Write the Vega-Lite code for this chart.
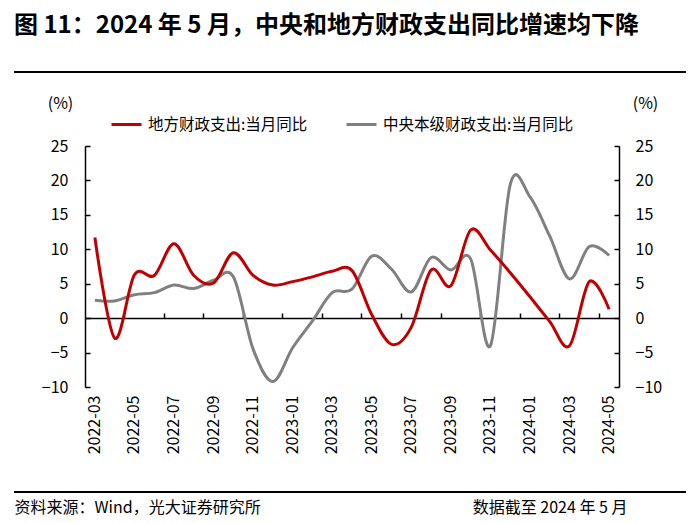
{
  "$schema": "https://vega.github.io/schema/vega-lite/v6.json",
  "width": 672,
  "height": 420,
  "autosize": {"type": "none"},
  "padding": {"left": 14, "top": 72, "right": 14, "bottom": 31},
  "background": "white",
  "view": {"stroke": "black", "strokeWidth": 2, "strokeDash": [672, 420]},
  "title": {
    "text": "图 11：2024 年 5 月，中央和地方财政支出同比增速均下降",
    "anchor": "start",
    "frame": "group",
    "font": "Noto Sans CJK SC",
    "fontSize": 24,
    "fontWeight": "bold",
    "color": "#000000",
    "baseline": "middle",
    "offset": 22
  },
  "data": {
    "values": [
      {"month": "2022-03", "local": 11.7, "central": 2.6},
      {"month": "2022-04", "local": -2.9, "central": 2.5},
      {"month": "2022-05", "local": 6.3, "central": 3.4},
      {"month": "2022-06", "local": 6.2, "central": 3.7},
      {"month": "2022-07", "local": 10.8, "central": 4.8},
      {"month": "2022-08", "local": 6.2, "central": 4.3},
      {"month": "2022-09", "local": 5.1, "central": 5.5},
      {"month": "2022-10", "local": 9.5, "central": 6.0},
      {"month": "2022-11", "local": 6.2, "central": -4.5},
      {"month": "2022-12", "local": 4.8, "central": -9.2},
      {"month": "2023-01", "local": 5.3, "central": -4.3},
      {"month": "2023-02", "local": 6.0, "central": -0.4},
      {"month": "2023-03", "local": 6.8, "central": 3.7},
      {"month": "2023-04", "local": 6.9, "central": 4.2},
      {"month": "2023-05", "local": 0.5, "central": 9.0},
      {"month": "2023-06", "local": -3.8, "central": 7.1},
      {"month": "2023-07", "local": -1.3, "central": 3.8},
      {"month": "2023-08", "local": 7.0, "central": 8.8},
      {"month": "2023-09", "local": 4.7, "central": 7.0},
      {"month": "2023-10", "local": 12.8, "central": 8.6},
      {"month": "2023-11", "local": 9.9, "central": -4.0},
      {"month": "2023-12", "local": 6.6, "central": 19.4},
      {"month": "2024-01", "local": 3.1, "central": 17.6},
      {"month": "2024-02", "local": -0.5, "central": 11.9},
      {"month": "2024-03", "local": -4.0, "central": 5.7},
      {"month": "2024-04", "local": 5.3, "central": 10.4},
      {"month": "2024-05", "local": 1.3, "central": 9.1}
    ]
  },
  "layer": [
    {
      "mark": {"type": "line", "strokeWidth": 3, "interpolate": "cardinal", "tension": 0},
      "encoding": {
        "x": {
          "field": "month",
          "type": "ordinal",
          "scale": {"type": "band", "domain": ["2022-03","2022-04","2022-05","2022-06","2022-07","2022-08","2022-09","2022-10","2022-11","2022-12","2023-01","2023-02","2023-03","2023-04","2023-05","2023-06","2023-07","2023-08","2023-09","2023-10","2023-11","2023-12","2024-01","2024-02","2024-03","2024-04","2024-05"], "range": [71, 605], "paddingInner": 0, "paddingOuter": 0},
          "axis": {
            "orient": "top",
            "offset": -246,
            "labels": false,
            "domain": true,
            "ticks": true,
            "tickSize": 5,
            "bandPosition": 0,
            "values": ["2022-05","2022-07","2022-09","2022-11","2023-01","2023-03","2023-05","2023-07","2023-09","2023-11","2024-01","2024-03","2024-05"],
            "title": "数据截至 2024 年 5 月",
            "titleX": 613,
            "titleY": 189,
            "titleAlign": "right",
            "titleAnchor": null,
            "titleBaseline": "middle",
            "titleAngle": 0
          }
        },
        "y": {
          "field": "central",
          "type": "quantitative",
          "scale": {"domain": [-10, 25], "range": [315, 74], "nice": false, "zero": false},
          "axis": {
            "orient": "right",
            "offset": -67,
            "values": [-10, -5, 0, 5, 10, 15, 20, 25],
            "tickSize": -5,
            "labelPadding": 21,
            "title": "(%)",
            "titleAngle": 0,
            "titleX": 26,
            "titleY": 31,
            "titleAlign": "center",
            "titleBaseline": "middle"
          }
        },
        "color": {
          "datum": "中央本级财政支出:当月同比",
          "type": "nominal",
          "scale": {"domain": ["地方财政支出:当月同比", "中央本级财政支出:当月同比"], "range": ["#C00000", "#808080"]},
          "legend": {"orient": "none", "legendX": 96, "legendY": 36, "direction": "horizontal", "columns": 2, "title": null}
        }
      }
    },
    {
      "mark": {"type": "line", "strokeWidth": 3, "interpolate": "cardinal", "tension": 0},
      "encoding": {
        "x": {
          "field": "month",
          "type": "ordinal",
          "scale": {"type": "band", "domain": ["2022-03","2022-04","2022-05","2022-06","2022-07","2022-08","2022-09","2022-10","2022-11","2022-12","2023-01","2023-02","2023-03","2023-04","2023-05","2023-06","2023-07","2023-08","2023-09","2023-10","2023-11","2023-12","2024-01","2024-02","2024-03","2024-04","2024-05"], "range": [71, 605], "paddingInner": 0, "paddingOuter": 0},
          "axis": {
            "orient": "bottom",
            "offset": -105,
            "domain": false,
            "ticks": false,
            "labelAngle": 270,
            "labelPadding": 8,
            "labelOverlap": false,
            "values": ["2022-03","2022-05","2022-07","2022-09","2022-11","2023-01","2023-03","2023-05","2023-07","2023-09","2023-11","2024-01","2024-03","2024-05"],
            "title": "资料来源：Wind，光大证券研究所",
            "titleX": 0,
            "titleY": 120,
            "titleAlign": "left",
            "titleAnchor": null,
            "titleBaseline": "middle",
            "titleAngle": 0
          }
        },
        "y": {
          "field": "local",
          "type": "quantitative",
          "scale": {"domain": [-10, 25], "range": [315, 74], "nice": false, "zero": false},
          "axis": {
            "orient": "left",
            "offset": -71,
            "values": [-10, -5, 0, 5, 10, 15, 20, 25],
            "tickSize": -5,
            "labelPadding": 22,
            "title": "(%)",
            "titleAngle": 0,
            "titleX": -25,
            "titleY": 31,
            "titleAlign": "center",
            "titleBaseline": "middle"
          }
        },
        "color": {
          "datum": "地方财政支出:当月同比",
          "type": "nominal",
          "scale": {"domain": ["地方财政支出:当月同比", "中央本级财政支出:当月同比"], "range": ["#C00000", "#808080"]},
          "legend": {"orient": "none", "legendX": 96, "legendY": 36, "direction": "horizontal", "columns": 2, "title": null}
        }
      }
    }
  ],
  "resolve": {"scale": {"y": "independent"}, "axis": {"x": "independent", "y": "independent"}},
  "config": {
    "font": "Noto Sans CJK SC",
    "axis": {
      "labelFont": "Noto Sans CJK SC",
      "titleFont": "Noto Sans CJK SC",
      "labelFontSize": 16,
      "titleFontSize": 16,
      "titleFontWeight": "normal",
      "labelColor": "#000000",
      "titleColor": "#000000",
      "domainColor": "#000000",
      "tickColor": "#000000",
      "domainWidth": 1.5,
      "tickWidth": 1.5,
      "grid": false
    },
    "legend": {
      "labelFont": "Noto Sans CJK SC",
      "labelFontSize": 15.5,
      "labelColor": "#000000",
      "labelLimit": 400,
      "symbolType": "stroke",
      "symbolSize": 900,
      "symbolStrokeWidth": 3,
      "labelOffset": 5,
      "columnPadding": 32
    }
  }
}
